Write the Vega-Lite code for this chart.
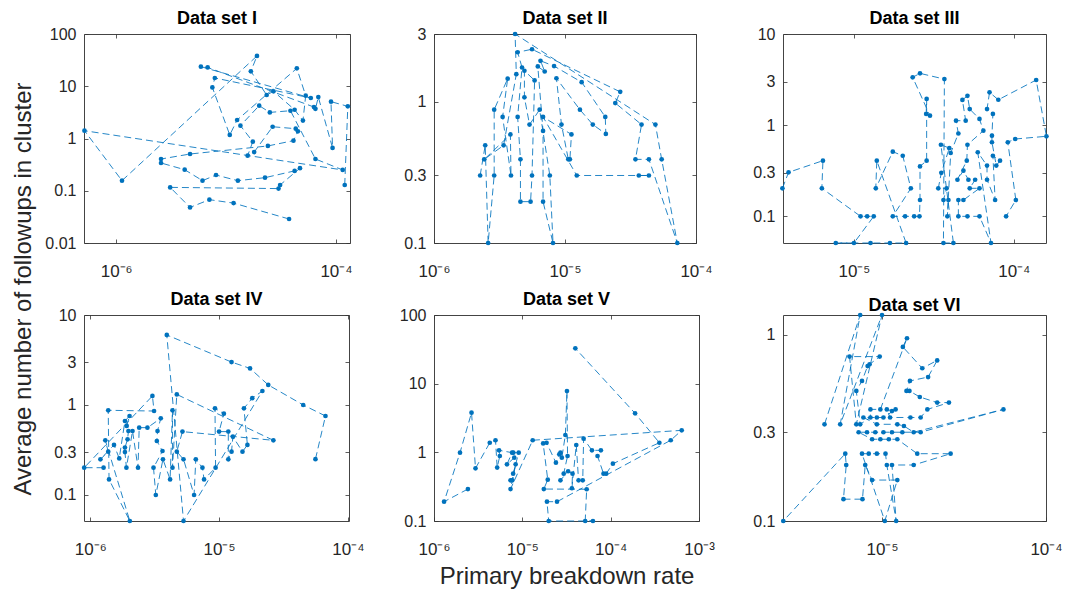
{
"$schema": "https://vega.github.io/schema/vega-lite/v6.json",
"padding": {"left": 10, "top": 9, "right": 0, "bottom": 0},
"bounds": "flush",
"columns": 3,
"spacing": {"row": 72, "column": 84},
"config": {
  "view": {"stroke": "#444444", "strokeWidth": 1},
  "font": "Liberation Sans",
  "axis": {"domain": false, "grid": false, "tickColor": "#333333", "tickSize": -4, "tickWidth": 0.8, "labelFont": "Liberation Sans", "labelFontSize": 16, "labelColor": "#262626", "labelFlush": false, "labelOverlap": false, "labelBound": false, "titleFont": "Liberation Sans", "titleColor": "#262626", "titleFontWeight": "normal"},
  "axisX": {"labelBaseline": "alphabetic", "labelPadding": 37, "labelFontSize": 17},
  "axisY": {"labelPadding": 12},
  "axisTop": {"labelPadding": 0, "minExtent": 0, "maxExtent": 0},
  "axisRight": {"labelPadding": 0, "minExtent": 0, "maxExtent": 0},
  "title": {"font": "Liberation Sans", "fontSize": 18, "fontWeight": "bold", "color": "#000000", "offset": -2, "anchor": "middle", "frame": "group"}
},
"datasets": {
"d1": [
{"x":1.2e-4,"y":0.129},{"x":1.28e-4,"y":4.13},{"x":9.0e-5,"y":5.07},{"x":9.3e-5,"y":0.66},{"x":6.9e-5,"y":6.2},{"x":6.5e-5,"y":3.7},{"x":6.3e-5,"y":4.0},{"x":6.8e-6,"y":22.9},{"x":5.9e-6,"y":23.7},{"x":5.9e-5,"y":5.96},{"x":7.9e-6,"y":14.4},{"x":7.5e-6,"y":9.5},{"x":1.08e-5,"y":1.17},{"x":1.26e-5,"y":2.26},{"x":4.4e-5,"y":22},{"x":5.3e-5,"y":6.6},{"x":5.0e-5,"y":2.2},{"x":4.2e-5,"y":3.55},{"x":2.7e-5,"y":8.0},{"x":2.34e-5,"y":6.8},{"x":1.68e-5,"y":19.3},{"x":1.91e-5,"y":38},{"x":1.13e-6,"y":0.156},{"x":5.15e-7,"y":1.41},{"x":1.15e-4,"y":0.25},{"x":6.5e-5,"y":0.405},{"x":3.85e-5,"y":3.4},{"x":2.5e-5,"y":3.16},{"x":2.0e-5,"y":4.25},{"x":1.35e-5,"y":1.76},{"x":1.75e-5,"y":0.87},{"x":1.57e-5,"y":0.47},{"x":1.8e-5,"y":0.55},{"x":2.65e-5,"y":1.68},{"x":4.3e-5,"y":1.54},{"x":4.5e-5,"y":1.37},{"x":4.1e-5,"y":0.91},{"x":2.4e-5,"y":0.72},{"x":4.7e-6,"y":0.505},{"x":2.56e-6,"y":0.405},{"x":2.56e-6,"y":0.34},{"x":4.2e-6,"y":0.253},{"x":6.1e-6,"y":0.156},{"x":8.1e-6,"y":0.2},{"x":1.28e-5,"y":0.156},{"x":2.26e-5,"y":0.178},{"x":4.2e-5,"y":0.24},{"x":4.7e-5,"y":0.27},{"x":3.1e-5,"y":0.129},{"x":3.0e-5,"y":0.11},{"x":3.1e-6,"y":0.116},{"x":4.7e-6,"y":0.048},{"x":7.05e-6,"y":0.0675},{"x":1.17e-5,"y":0.058},{"x":3.74e-5,"y":0.0288}
],
"d2": [
{"x":2.25e-6,"y":0.3},{"x":2.46e-6,"y":0.49},{"x":2.59e-6,"y":0.1},{"x":2.88e-6,"y":0.3},{"x":2.88e-6,"y":0.875},{"x":3.65e-6,"y":1.45},{"x":3.34e-6,"y":0.778},{"x":3.87e-6,"y":0.3},{"x":3.83e-6,"y":0.585},{"x":2.42e-6,"y":0.39},{"x":3.4e-6,"y":0.49},{"x":4.25e-6,"y":1.56},{"x":4.16e-6,"y":3.0},{"x":4.9e-5,"y":0.687},{"x":5.47e-5,"y":0.39},{"x":7.2e-5,"y":0.1},{"x":4.37e-5,"y":0.39},{"x":3.45e-5,"y":0.39},{"x":3.84e-5,"y":0.687},{"x":2.42e-5,"y":0.975},{"x":2.64e-5,"y":1.17},{"x":5.6e-6,"y":2.34},{"x":4.35e-6,"y":2.23},{"x":4.7e-6,"y":1.74},{"x":4.35e-6,"y":0.778},{"x":4.57e-6,"y":0.39},{"x":4.57e-6,"y":0.196},{"x":5.46e-6,"y":0.196},{"x":5.6e-6,"y":0.3},{"x":5.86e-6,"y":1.41},{"x":4.9e-6,"y":1.65},{"x":4.9e-6,"y":1.07},{"x":5.36e-6,"y":0.687},{"x":6.4e-6,"y":0.875},{"x":7.66e-6,"y":0.3},{"x":8.1e-6,"y":0.1},{"x":6.8e-6,"y":0.196},{"x":6.8e-6,"y":0.62},{"x":6.2e-6,"y":1.77},{"x":7.0e-6,"y":1.63},{"x":6.5e-6,"y":1.94},{"x":8.25e-6,"y":1.78},{"x":1.34e-5,"y":1.37},{"x":2.03e-5,"y":0.778},{"x":2.05e-5,"y":0.59},{"x":1.63e-5,"y":0.687},{"x":1.3e-5,"y":0.875},{"x":8.6e-6,"y":1.46},{"x":9.4e-6,"y":0.687},{"x":1.06e-5,"y":0.39},{"x":1.09e-5,"y":0.39},{"x":1.12e-5,"y":0.585},{"x":6.8e-6,"y":0.778},{"x":1.23e-5,"y":0.3},{"x":4.37e-5,"y":0.3},{"x":3.66e-5,"y":0.3}
],
"d3": [
{"x":3.57e-6,"y":0.203},{"x":3.9e-6,"y":0.304},{"x":6.4e-6,"y":0.408},{"x":6.3e-6,"y":0.203},{"x":1.1e-5,"y":0.1},{"x":1.21e-5,"y":0.1},{"x":1.33e-5,"y":0.1},{"x":1.0e-5,"y":0.051},{"x":7.7e-6,"y":0.051},{"x":1.27e-5,"y":0.051},{"x":1.68e-5,"y":0.051},{"x":2.12e-5,"y":0.051},{"x":1.39e-5,"y":0.408},{"x":1.37e-5,"y":0.203},{"x":1.75e-5,"y":0.512},{"x":2.02e-5,"y":0.462},{"x":2.27e-5,"y":0.203},{"x":1.75e-5,"y":0.1},{"x":2.09e-5,"y":0.1},{"x":2.38e-5,"y":0.1},{"x":2.57e-5,"y":0.1},{"x":2.59e-5,"y":0.151},{"x":2.59e-5,"y":0.353},{"x":2.85e-5,"y":0.408},{"x":2.85e-5,"y":1.94},{"x":2.83e-5,"y":1.33},{"x":2.99e-5,"y":1.27},{"x":2.33e-5,"y":3.35},{"x":2.59e-5,"y":3.7},{"x":3.68e-5,"y":3.2},{"x":3.63e-5,"y":0.051},{"x":4.19e-5,"y":0.051},{"x":3.5e-5,"y":0.61},{"x":3.95e-5,"y":0.56},{"x":3.52e-5,"y":0.3},{"x":3.37e-5,"y":0.203},{"x":3.8e-5,"y":0.203},{"x":3.63e-5,"y":0.151},{"x":3.9e-5,"y":0.151},{"x":3.84e-5,"y":0.1},{"x":4.03e-5,"y":0.495},{"x":4.5e-5,"y":0.81},{"x":4.35e-5,"y":1.12},{"x":5.0e-5,"y":1.12},{"x":4.77e-5,"y":1.89},{"x":5.13e-5,"y":2.1},{"x":5.3e-5,"y":1.5},{"x":6.1e-5,"y":1.17},{"x":6.45e-5,"y":0.87},{"x":5.13e-5,"y":0.61},{"x":5.08e-5,"y":0.408},{"x":4.44e-5,"y":0.252},{"x":4.84e-5,"y":0.317},{"x":5.2e-5,"y":0.252},{"x":5.73e-5,"y":0.252},{"x":5.3e-5,"y":0.203},{"x":6.1e-5,"y":0.203},{"x":4.84e-5,"y":0.151},{"x":4.5e-5,"y":0.151},{"x":4.5e-5,"y":0.1},{"x":5.13e-5,"y":0.1},{"x":6.1e-5,"y":0.1},{"x":7.2e-5,"y":0.051},{"x":5.95e-5,"y":0.505},{"x":6.8e-5,"y":0.36},{"x":6.8e-5,"y":0.252},{"x":7.64e-5,"y":0.151},{"x":7.4e-5,"y":0.462},{"x":8.2e-5,"y":0.408},{"x":7.77e-5,"y":0.36},{"x":7.3e-5,"y":0.65},{"x":7.3e-5,"y":0.767},{"x":7.4e-5,"y":1.33},{"x":6.8e-5,"y":1.5},{"x":7.05e-5,"y":2.29},{"x":8.0e-5,"y":1.9},{"x":1.38e-4,"y":3.13},{"x":1.6e-4,"y":0.755},{"x":1.02e-4,"y":0.705},{"x":9.17e-5,"y":0.65},{"x":1.03e-4,"y":0.151},{"x":8.95e-5,"y":0.1}
],
"d4": [
{"x":1.27e-6,"y":0.201},{"x":8.98e-7,"y":0.201},{"x":3.04e-6,"y":1.26},{"x":3.13e-6,"y":0.857},{"x":1.38e-6,"y":0.873},{"x":1.4e-6,"y":0.149},{"x":2.03e-6,"y":0.0514},{"x":1.31e-6,"y":0.405},{"x":1.38e-6,"y":0.303},{"x":1.2e-6,"y":0.249},{"x":1.53e-6,"y":0.36},{"x":1.68e-6,"y":0.255},{"x":1.86e-6,"y":0.664},{"x":2.02e-6,"y":0.755},{"x":1.92e-6,"y":0.585},{"x":1.98e-6,"y":0.514},{"x":1.95e-6,"y":0.415},{"x":1.86e-6,"y":0.336},{"x":1.86e-6,"y":0.3},{"x":1.91e-6,"y":0.201},{"x":2.13e-6,"y":0.514},{"x":2.35e-6,"y":0.201},{"x":2.4e-6,"y":0.56},{"x":2.78e-6,"y":0.56},{"x":3.53e-6,"y":0.711},{"x":3.33e-6,"y":0.514},{"x":3.29e-6,"y":0.398},{"x":3.64e-6,"y":0.308},{"x":3.1e-6,"y":0.201},{"x":3.23e-6,"y":0.1},{"x":3.67e-6,"y":0.249},{"x":4.17e-6,"y":0.149},{"x":4.35e-6,"y":0.873},{"x":4.35e-6,"y":0.201},{"x":4.7e-6,"y":1.31},{"x":2.64e-5,"y":0.405},{"x":5.2e-6,"y":0.506},{"x":4.7e-6,"y":0.303},{"x":5.3e-6,"y":0.249},{"x":6.4e-6,"y":0.1},{"x":6.6e-6,"y":0.249},{"x":7.43e-6,"y":0.201},{"x":7.65e-6,"y":0.149},{"x":9.4e-6,"y":0.201},{"x":9.3e-6,"y":0.918},{"x":1.09e-5,"y":0.8},{"x":1.0e-5,"y":0.506},{"x":1.18e-5,"y":0.506},{"x":1.18e-5,"y":0.249},{"x":1.25e-5,"y":0.303},{"x":1.28e-5,"y":0.445},{"x":1.52e-5,"y":0.303},{"x":1.66e-5,"y":0.36},{"x":1.56e-5,"y":0.918},{"x":1.81e-5,"y":1.19},{"x":2.17e-5,"y":1.43},{"x":5.3e-6,"y":0.0514},{"x":3.93e-6,"y":6.0},{"x":1.25e-5,"y":3.0},{"x":1.74e-5,"y":2.55},{"x":2.41e-5,"y":1.67},{"x":4.5e-5,"y":1.0},{"x":6.7e-5,"y":0.755},{"x":5.6e-5,"y":0.25}
],
"d5": [
{"x":2.42e-6,"y":0.292},{"x":1.3e-6,"y":0.191},{"x":1.97e-6,"y":0.99},{"x":2.66e-6,"y":3.78},{"x":2.95e-6,"y":0.585},{"x":4.28e-6,"y":1.38},{"x":4.97e-6,"y":1.5},{"x":5.19e-6,"y":0.6},{"x":5.56e-6,"y":0.885},{"x":5.45e-6,"y":1.07},{"x":7.65e-6,"y":0.99},{"x":6.7e-6,"y":0.668},{"x":8.1e-6,"y":0.835},{"x":7.9e-6,"y":0.99},{"x":9.1e-6,"y":0.99},{"x":7.87e-6,"y":0.489},{"x":7.35e-6,"y":0.391},{"x":7.7e-6,"y":0.391},{"x":8.4e-6,"y":0.668},{"x":7.35e-6,"y":0.292},{"x":1.31e-5,"y":1.5},{"x":6.37e-4,"y":2.09},{"x":4.79e-4,"y":1.5},{"x":2.47e-5,"y":0.191},{"x":1.9e-5,"y":0.191},{"x":1.99e-5,"y":0.1},{"x":6.3e-5,"y":0.1},{"x":5.15e-5,"y":0.1},{"x":5.35e-5,"y":0.29},{"x":1.75e-5,"y":0.292},{"x":1.94e-5,"y":0.4},{"x":1.72e-5,"y":1.35},{"x":1.88e-5,"y":1.38},{"x":2.4e-5,"y":0.708},{"x":2.62e-5,"y":0.935},{"x":2.7e-5,"y":0.99},{"x":2.8e-5,"y":0.835},{"x":3.07e-5,"y":1.79},{"x":3.2e-5,"y":7.8},{"x":3.25e-5,"y":0.885},{"x":2.94e-5,"y":0.489},{"x":2.7e-5,"y":0.391},{"x":3.3e-5,"y":0.53},{"x":3.7e-5,"y":0.489},{"x":3.64e-5,"y":0.3},{"x":4.08e-5,"y":1.28},{"x":4.33e-5,"y":0.391},{"x":4.83e-5,"y":0.391},{"x":4.94e-5,"y":1.58},{"x":6.14e-5,"y":1.07},{"x":7.75e-5,"y":1.07},{"x":7.1e-5,"y":0.885},{"x":8.3e-5,"y":0.489},{"x":8.9e-5,"y":0.489},{"x":1.06e-4,"y":0.684},{"x":3.56e-4,"y":1.38},{"x":1.89e-4,"y":3.7},{"x":3.98e-5,"y":32.7}
],
"d6": [
{"x":4.46e-6,"y":0.331},{"x":7.36e-6,"y":1.28},{"x":5.56e-6,"y":0.331},{"x":1.0e-5,"y":1.28},{"x":6.97e-6,"y":0.331},{"x":6.34e-6,"y":0.765},{"x":9.68e-6,"y":0.765},{"x":8.4e-6,"y":0.695},{"x":8.17e-6,"y":0.68},{"x":7.55e-6,"y":0.566},{"x":6.97e-6,"y":0.5},{"x":7.36e-6,"y":0.331},{"x":8.5e-6,"y":0.36},{"x":8.5e-6,"y":0.398},{"x":9.77e-6,"y":0.398},{"x":1.42e-5,"y":0.96},{"x":1.34e-5,"y":0.862},{"x":1.76e-5,"y":0.662},{"x":2.17e-5,"y":0.73},{"x":1.91e-5,"y":0.594},{"x":1.48e-5,"y":0.566},{"x":1.41e-5,"y":0.5},{"x":1.47e-5,"y":0.5},{"x":1.7e-5,"y":0.464},{"x":2.17e-5,"y":0.433},{"x":2.56e-5,"y":0.433},{"x":1.89e-5,"y":0.398},{"x":1.72e-5,"y":0.36},{"x":1.49e-5,"y":0.36},{"x":1.12e-5,"y":0.36},{"x":1.07e-5,"y":0.398},{"x":1.15e-5,"y":0.39},{"x":1.21e-5,"y":0.398},{"x":1.02e-5,"y":0.36},{"x":9.3e-6,"y":0.36},{"x":7.7e-6,"y":0.36},{"x":9.3e-6,"y":0.331},{"x":1.24e-5,"y":0.331},{"x":1.36e-5,"y":0.324},{"x":1.56e-5,"y":0.3},{"x":5.5e-5,"y":0.398},{"x":1.72e-5,"y":0.3},{"x":1.33e-5,"y":0.3},{"x":1.15e-5,"y":0.3},{"x":1.02e-5,"y":0.3},{"x":9.1e-6,"y":0.3},{"x":8.1e-6,"y":0.3},{"x":7.2e-6,"y":0.3},{"x":8.7e-6,"y":0.275},{"x":9.77e-6,"y":0.275},{"x":1.1e-5,"y":0.275},{"x":1.24e-5,"y":0.275},{"x":1.64e-5,"y":0.23},{"x":2.62e-5,"y":0.23},{"x":1.56e-5,"y":0.2},{"x":1.15e-5,"y":0.2},{"x":1.22e-5,"y":0.1},{"x":1.07e-5,"y":0.2},{"x":1.05e-5,"y":0.23},{"x":9.3e-6,"y":0.23},{"x":8.3e-6,"y":0.23},{"x":7.55e-6,"y":0.23},{"x":1.04e-5,"y":0.1},{"x":1.24e-5,"y":0.166},{"x":8.7e-6,"y":0.166},{"x":7.9e-6,"y":0.2},{"x":7.6e-6,"y":0.131},{"x":5.82e-6,"y":0.131},{"x":6.05e-6,"y":0.2},{"x":5.97e-6,"y":0.23},{"x":2.5e-6,"y":0.1}
]
},
"concat": [
  {"title": "Data set I", "width": 266, "height": 209, "data": {"name": "d1"},
   "layer": [
    {"mark": {"type": "line", "color": "#0072BD", "strokeWidth": 1, "strokeDash": [7, 4], "opacity": 0.85},
     "encoding": {
      "x": {"field": "x", "type": "quantitative", "scale": {"type": "log", "domain": [5.1e-7, 1.34e-4], "nice": false}, "axis": {"values": [1e-6, 1e-4], "title": null, "labelExpr": "'10⁻' + ['⁰','¹','²','³','⁴','⁵','⁶','⁷','⁸','⁹'][round(-log(datum.value)/LN10)]"}},
      "y": {"field": "y", "type": "quantitative", "scale": {"type": "log", "domain": [0.01, 100], "nice": false}, "axis": {"values": [0.01, 0.1, 1, 10, 100], "format": "~g", "title": "Average number of followups in cluster", "titleFontSize": 24, "titleX": -61, "titleY": 254.5, "titleAngle": -90, "titleBaseline": "middle", "titleAlign": "center"}},
      "order": {"value": null}}},
    {"mark": {"type": "point", "filled": true, "size": 22, "color": "#0072BD", "opacity": 1},
     "encoding": {
      "x": {"field": "x", "type": "quantitative", "scale": {"type": "log", "domain": [5.1e-7, 1.34e-4], "nice": false}, "axis": {"orient": "top", "values": [1e-6, 1e-4], "title": null, "labels": false}},
      "y": {"field": "y", "type": "quantitative", "scale": {"type": "log", "domain": [0.01, 100], "nice": false}, "axis": {"orient": "right", "values": [0.01, 0.1, 1, 10, 100], "title": null, "labels": false}}}}
   ],
   "resolve": {"axis": {"x": "independent", "y": "independent"}}},
  {"title": "Data set II", "width": 262, "height": 209, "data": {"name": "d2"},
   "layer": [
    {"mark": {"type": "line", "color": "#0072BD", "strokeWidth": 1, "strokeDash": [7, 4], "opacity": 0.85},
     "encoding": {
      "x": {"field": "x", "type": "quantitative", "scale": {"type": "log", "domain": [1e-6, 1e-4], "nice": false}, "axis": {"values": [1e-6, 1e-5, 1e-4], "title": null, "labelExpr": "'10⁻' + ['⁰','¹','²','³','⁴','⁵','⁶','⁷','⁸','⁹'][round(-log(datum.value)/LN10)]"}},
      "y": {"field": "y", "type": "quantitative", "scale": {"type": "log", "domain": [0.1, 3], "nice": false}, "axis": {"values": [0.1, 0.3, 1, 3], "title": null, "format": "~g"}},
      "order": {"value": null}}},
    {"mark": {"type": "point", "filled": true, "size": 22, "color": "#0072BD", "opacity": 1},
     "encoding": {
      "x": {"field": "x", "type": "quantitative", "scale": {"type": "log", "domain": [1e-6, 1e-4], "nice": false}, "axis": {"orient": "top", "values": [1e-6, 1e-5, 1e-4], "title": null, "labels": false}},
      "y": {"field": "y", "type": "quantitative", "scale": {"type": "log", "domain": [0.1, 3], "nice": false}, "axis": {"orient": "right", "values": [0.1, 0.3, 1, 3], "title": null, "labels": false}}}}
   ],
   "resolve": {"axis": {"x": "independent", "y": "independent"}}},
  {"title": "Data set III", "width": 263, "height": 209, "data": {"name": "d3"},
   "layer": [
    {"mark": {"type": "line", "color": "#0072BD", "strokeWidth": 1, "strokeDash": [7, 4], "opacity": 0.85},
     "encoding": {
      "x": {"field": "x", "type": "quantitative", "scale": {"type": "log", "domain": [3.6e-6, 1.59e-4], "nice": false}, "axis": {"values": [1e-5, 1e-4], "title": null, "labelExpr": "'10⁻' + ['⁰','¹','²','³','⁴','⁵','⁶','⁷','⁸','⁹'][round(-log(datum.value)/LN10)]"}},
      "y": {"field": "y", "type": "quantitative", "scale": {"type": "log", "domain": [0.051, 10], "nice": false}, "axis": {"values": [0.1, 0.3, 1, 3, 10], "title": null, "format": "~g"}},
      "order": {"value": null}}},
    {"mark": {"type": "point", "filled": true, "size": 22, "color": "#0072BD", "opacity": 1},
     "encoding": {
      "x": {"field": "x", "type": "quantitative", "scale": {"type": "log", "domain": [3.6e-6, 1.59e-4], "nice": false}, "axis": {"orient": "top", "values": [1e-5, 1e-4], "title": null, "labels": false}},
      "y": {"field": "y", "type": "quantitative", "scale": {"type": "log", "domain": [0.051, 10], "nice": false}, "axis": {"orient": "right", "values": [0.1, 0.3, 1, 3, 10], "title": null, "labels": false}}}}
   ],
   "resolve": {"axis": {"x": "independent", "y": "independent"}}},
  {"title": "Data set IV", "width": 265, "height": 206, "data": {"name": "d4"},
   "layer": [
    {"mark": {"type": "line", "color": "#0072BD", "strokeWidth": 1, "strokeDash": [7, 4], "opacity": 0.85},
     "encoding": {
      "x": {"field": "x", "type": "quantitative", "scale": {"type": "log", "domain": [8.95e-7, 1.02e-4], "nice": false}, "axis": {"values": [1e-6, 1e-5, 1e-4], "title": null, "labelExpr": "'10⁻' + ['⁰','¹','²','³','⁴','⁵','⁶','⁷','⁸','⁹'][round(-log(datum.value)/LN10)]"}},
      "y": {"field": "y", "type": "quantitative", "scale": {"type": "log", "domain": [0.0514, 10], "nice": false}, "axis": {"values": [0.1, 0.3, 1, 3, 10], "format": "~g", "title": null}},
      "order": {"value": null}}},
    {"mark": {"type": "point", "filled": true, "size": 22, "color": "#0072BD", "opacity": 1},
     "encoding": {
      "x": {"field": "x", "type": "quantitative", "scale": {"type": "log", "domain": [8.95e-7, 1.02e-4], "nice": false}, "axis": {"orient": "top", "values": [1e-6, 1e-5, 1e-4], "title": null, "labels": false}},
      "y": {"field": "y", "type": "quantitative", "scale": {"type": "log", "domain": [0.0514, 10], "nice": false}, "axis": {"orient": "right", "values": [0.1, 0.3, 1, 3, 10], "title": null, "labels": false}}}}
   ],
   "resolve": {"axis": {"x": "independent", "y": "independent"}}},
  {"title": "Data set V", "width": 265, "height": 206, "data": {"name": "d5"},
   "layer": [
    {"mark": {"type": "line", "color": "#0072BD", "strokeWidth": 1, "strokeDash": [7, 4], "opacity": 0.85},
     "encoding": {
      "x": {"field": "x", "type": "quantitative", "scale": {"type": "log", "domain": [1e-6, 1e-3], "nice": false}, "axis": {"values": [1e-6, 1e-5, 1e-4, 1e-3], "labelExpr": "'10⁻' + ['⁰','¹','²','³','⁴','⁵','⁶','⁷','⁸','⁹'][round(-log(datum.value)/LN10)]", "title": "Primary breakdown rate", "titleFontSize": 24, "titleY": 62, "titleBaseline": "alphabetic"}},
      "y": {"field": "y", "type": "quantitative", "scale": {"type": "log", "domain": [0.1, 100], "nice": false}, "axis": {"values": [0.1, 1, 10, 100], "title": null, "format": "~g"}},
      "order": {"value": null}}},
    {"mark": {"type": "point", "filled": true, "size": 22, "color": "#0072BD", "opacity": 1},
     "encoding": {
      "x": {"field": "x", "type": "quantitative", "scale": {"type": "log", "domain": [1e-6, 1e-3], "nice": false}, "axis": {"orient": "top", "values": [1e-6, 1e-5, 1e-4, 1e-3], "title": null, "labels": false}},
      "y": {"field": "y", "type": "quantitative", "scale": {"type": "log", "domain": [0.1, 100], "nice": false}, "axis": {"orient": "right", "values": [0.1, 1, 10, 100], "title": null, "labels": false}}}}
   ],
   "resolve": {"axis": {"x": "independent", "y": "independent"}}},
  {"title": "Data set VI", "width": 263, "height": 206, "data": {"name": "d6"},
   "layer": [
    {"mark": {"type": "line", "color": "#0072BD", "strokeWidth": 1, "strokeDash": [7, 4], "opacity": 0.85},
     "encoding": {
      "x": {"field": "x", "type": "quantitative", "scale": {"type": "log", "domain": [2.49e-6, 1e-4], "nice": false}, "axis": {"values": [1e-5, 1e-4], "title": null, "labelExpr": "'10⁻' + ['⁰','¹','²','³','⁴','⁵','⁶','⁷','⁸','⁹'][round(-log(datum.value)/LN10)]"}},
      "y": {"field": "y", "type": "quantitative", "scale": {"type": "log", "domain": [0.1, 1.28], "nice": false}, "axis": {"values": [0.1, 0.3, 1], "title": null, "format": "~g"}},
      "order": {"value": null}}},
    {"mark": {"type": "point", "filled": true, "size": 22, "color": "#0072BD", "opacity": 1},
     "encoding": {
      "x": {"field": "x", "type": "quantitative", "scale": {"type": "log", "domain": [2.49e-6, 1e-4], "nice": false}, "axis": {"orient": "top", "values": [1e-5, 1e-4], "title": null, "labels": false}},
      "y": {"field": "y", "type": "quantitative", "scale": {"type": "log", "domain": [0.1, 1.28], "nice": false}, "axis": {"orient": "right", "values": [0.1, 0.3, 1], "title": null, "labels": false}}}}
   ],
   "resolve": {"axis": {"x": "independent", "y": "independent"}}}
]
}
